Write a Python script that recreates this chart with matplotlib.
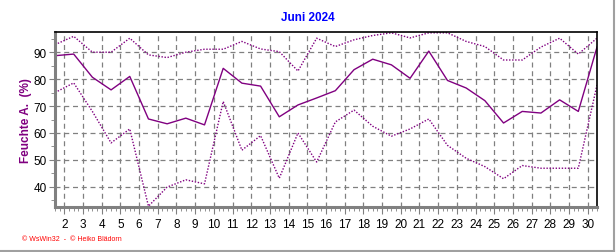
import numpy as np
import matplotlib.pyplot as plt
from matplotlib.lines import Line2D

# Juni 2024, relative humidity per day (max / mean / min)
days = np.arange(1, 31)
hum_max = [92.8, 95.9, 90.0, 90.0, 95.2, 89.0, 88.0, 90.0, 91.1, 91.1,
           94.0, 91.2, 90.2, 83.0, 95.2, 92.1, 94.6, 96.2, 97.2, 95.3,
           97.2, 97.2, 94.0, 92.1, 87.1, 87.1, 91.9, 95.2, 89.3, 95.2]
hum_mean = [88.7, 89.3, 80.7, 76.0, 81.0, 65.2, 63.4, 65.5, 63.0, 84.0,
            78.5, 77.4, 66.0, 70.4, 73.0, 75.7, 83.5, 87.4, 85.3, 80.3,
            90.4, 79.5, 76.7, 72.0, 63.7, 68.0, 67.4, 72.3, 68.0, 91.9]
hum_min = [75.0, 78.6, 68.0, 56.3, 61.5, 32.8, 39.9, 42.6, 41.1, 71.7,
           53.6, 59.0, 43.2, 60.0, 49.2, 64.1, 68.5, 62.5, 58.8, 61.5,
           65.2, 55.4, 50.6, 47.5, 43.0, 47.9, 46.9, 46.9, 46.9, 77.8]
xticks = list(range(2, 31))
yticks = [40, 50, 60, 70, 80, 90]

purple = "#800080"
plt.rcParams["font.family"] = ["Liberation Sans", "DejaVu Sans"]

fig = plt.figure(figsize=(6.16, 2.53), dpi=100)
ax = fig.add_axes([55 / 616, 1 - 208 / 253, 542 / 616, 175 / 253])

x = days + 0.5
ax.plot(x, hum_max, color=purple, lw=1.0, ls=(0, (1, 1.2)))
ax.plot(x, hum_mean, color=purple, lw=1.0)
ax.plot(x, hum_min, color=purple, lw=1.0, ls=(0, (1, 1.2)))

ax.set_xlim(1.5, 30.5)
ax.set_ylim(32.5, 97.5)
ax.set_xticks(xticks)
ax.set_xticks(np.arange(1.5, 30.51, 0.25), minor=True)
ax.set_yticks(yticks)
ax.set_yticks(np.arange(35, 97, 5), minor=True)
ax.tick_params(axis="both", which="major", length=4, color="#808080",
               labelsize=8.5, pad=2)
ax.tick_params(axis="both", which="minor", length=3, color="#808080")
ax.tick_params(axis="x", which="major", length=5, pad=3)
ax.grid(True, which="major", color="#808080", ls=(0, (4, 3)), lw=0.9)

for s in ("left", "bottom"):
    ax.spines[s].set_color("#808080")
    ax.spines[s].set_linewidth(2.2)
for s in ("top", "right"):
    ax.spines[s].set_color("black")
    ax.spines[s].set_linewidth(1.2)

ax.set_ylabel("Feuchte A.  (%)", color=purple, fontsize=8.5, fontweight="bold",
              labelpad=1)
fig.text(0.5, 1 - 18 / 253, "Juni 2024", color="#0000ff", fontsize=8.5,
         fontweight="bold", ha="center", va="center")
fig.text(22 / 616, 1 - 240 / 253, "© WsWin32  -  © Heiko Blädorn", color="red",
         fontsize=5, ha="left", va="center")

# grey frame at right and bottom
fig.add_artist(Line2D([0, 613.5 / 616], [1.5 / 253, 1.5 / 253],
                      transform=fig.transFigure, color="#a0a0a0", lw=1.5))
fig.add_artist(Line2D([613.5 / 616, 613.5 / 616], [1.5 / 253, 1],
                      transform=fig.transFigure, color="#a0a0a0", lw=1.5))

fig.savefig("out.png", dpi=100)
